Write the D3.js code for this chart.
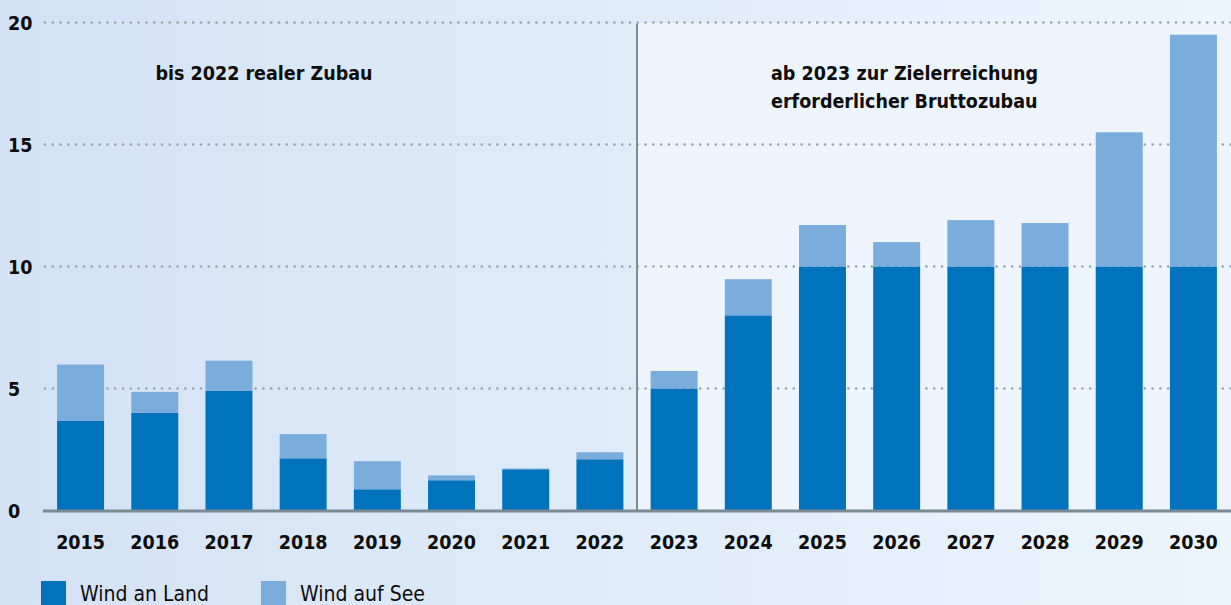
<!DOCTYPE html>
<html>
<head>
<meta charset="utf-8">
<script src="https://cdn.jsdelivr.net/npm/d3@7"></script>
<style>
  html, body { margin: 0; padding: 0; overflow: hidden; }
  svg { display: block; font-family: "DejaVu Sans Condensed", "DejaVu Sans", sans-serif; font-stretch: condensed; }
  .tick-label { font-weight: bold; font-size: 19.5px; fill: #0d0d0d; }
  .year-label { font-weight: bold; font-size: 19.5px; fill: #0d0d0d; }
  .note { font-weight: bold; font-size: 19.5px; fill: #0d0d0d; }
  .legend-label { font-size: 21px; fill: #0d0d0d; }
  .gridline { stroke: #98a2ab; stroke-width: 2.6; stroke-dasharray: 0 7.8; stroke-linecap: round; }
</style>
</head>
<body>
<div id="chart"></div>
<script>
const CANVAS_WIDTH  = 1231;
const CANVAS_HEIGHT = 605;

const PLOT_LEFT   = 43;
const PLOT_RIGHT  = 1231;
const PLOT_TOP    = 22.5;
const PLOT_BOTTOM = 510.5;

const COLOR_LAND = "#0073bc";
const COLOR_SEE  = "#7aacdc";

// data (GW per year)
const YEARS      = ["2015","2016","2017","2018","2019","2020","2021","2022",
                    "2023","2024","2025","2026","2027","2028","2029","2030"];
const WIND_LAND  = [3.67, 4.0, 4.9, 2.14, 0.87, 1.24, 1.69, 2.1,
                    5.0, 8.0, 10, 10, 10, 10, 10, 10];
const WIND_SEE   = [2.31, 0.86, 1.24, 0.99, 1.15, 0.2, 0.03, 0.29,
                    0.72, 1.48, 1.7, 1.0, 1.9, 1.78, 5.5, 9.5];
const Y_TICKS    = [0, 5, 10, 15, 20];
const SERIES     = [{name: "Wind an Land", color: COLOR_LAND},
                    {name: "Wind auf See", color: COLOR_SEE}];
const NOTE_LEFT  = ["bis 2022 realer Zubau"];
const NOTE_RIGHT = ["ab 2023 zur Zielerreichung", "erforderlicher Bruttozubau"];
const SPLIT_YEAR = "2023";

var svg = d3.select("#chart")
            .append("svg")
            .attr("width", CANVAS_WIDTH)
            .attr("height", CANVAS_HEIGHT);

var defs = svg.append("defs");
var grad = defs.append("linearGradient")
               .attr("id", "bg")
               .attr("x1", "0").attr("x2", "1")
               .attr("y1", "0").attr("y2", "0");
grad.append("stop").attr("offset", "0").attr("stop-color", "#d3e2f4");
grad.append("stop").attr("offset", "1").attr("stop-color", "#ecf5fd");

svg.append("rect")
   .attr("width", CANVAS_WIDTH)
   .attr("height", CANVAS_HEIGHT)
   .attr("fill", "url(#bg)");

var xScale = d3.scaleBand()
               .domain(YEARS)
               .range([PLOT_LEFT, PLOT_RIGHT])
               .paddingInner(0.367)
               .paddingOuter(0.19);

var yScale = d3.scaleLinear()
               .domain([0, 20])
               .range([PLOT_BOTTOM, PLOT_TOP]);

// split between real and target years
var splitIdx = YEARS.indexOf(SPLIT_YEAR);
var splitX = (xScale(YEARS[splitIdx - 1]) + xScale.bandwidth() + xScale(SPLIT_YEAR)) / 2;

svg.append("rect")
   .attr("x", splitX)
   .attr("y", yScale(20))
   .attr("width", CANVAS_WIDTH - splitX)
   .attr("height", yScale(0) - yScale(20))
   .attr("fill", "#edf4fc");

// gridlines
Y_TICKS.filter(t => t > 0).forEach(function(t) {
    svg.append("line")
       .attr("class", "gridline")
       .attr("x1", PLOT_LEFT + 2)
       .attr("x2", CANVAS_WIDTH)
       .attr("y1", yScale(t))
       .attr("y2", yScale(t));
});

Y_TICKS.forEach(function(t) {
    svg.append("text")
       .attr("class", "tick-label")
       .attr("x", 8)
       .attr("y", yScale(t) + 7)
       .text(t);
});

// stacked bars
var stackData = YEARS.map((y, i) => ({year: y, land: WIND_LAND[i], see: WIND_SEE[i]}));
var stacked = d3.stack().keys(["land", "see"])(stackData);

svg.selectAll("g.series")
   .data(stacked)
   .enter()
   .append("g")
   .attr("class", "series")
   .attr("fill", (d, i) => SERIES[i].color)
   .selectAll("rect")
   .data(d => d)
   .enter()
   .append("rect")
   .attr("x", d => xScale(d.data.year))
   .attr("y", d => yScale(d[1]))
   .attr("width", xScale.bandwidth())
   .attr("height", d => yScale(d[0]) - yScale(d[1]));

// divider
svg.append("line")
   .attr("x1", splitX).attr("x2", splitX)
   .attr("y1", yScale(20) + 1)
   .attr("y2", yScale(0))
   .attr("stroke", "#7f8c95")
   .attr("stroke-width", 2);

// baseline
svg.append("line")
   .attr("x1", PLOT_LEFT)
   .attr("x2", CANVAS_WIDTH)
   .attr("y1", yScale(0) + 0.5)
   .attr("y2", yScale(0) + 0.5)
   .attr("stroke", "#7b8a93")
   .attr("stroke-width", 3);

// year labels
svg.selectAll("text.year-label")
   .data(YEARS)
   .enter()
   .append("text")
   .attr("class", "year-label")
   .attr("text-anchor", "middle")
   .attr("x", d => xScale(d) + xScale.bandwidth() / 2)
   .attr("y", 549)
   .text(d => d);

// notes
svg.append("text")
   .attr("class", "note")
   .attr("text-anchor", "middle")
   .attr("x", 264)
   .attr("y", 80)
   .text(NOTE_LEFT[0]);

NOTE_RIGHT.forEach(function(line, i) {
    svg.append("text")
       .attr("class", "note")
       .attr("x", 771)
       .attr("y", 80 + i * 28)
       .text(line);
});

// legend
var legendX = [41, 261];
SERIES.forEach(function(s, i) {
    svg.append("rect")
       .attr("x", legendX[i])
       .attr("y", 581)
       .attr("width", 25)
       .attr("height", 25)
       .attr("fill", s.color);
    svg.append("text")
       .attr("class", "legend-label")
       .attr("x", legendX[i] + 39)
       .attr("y", 600.5)
       .text(s.name);
});
</script>
</body>
</html>
